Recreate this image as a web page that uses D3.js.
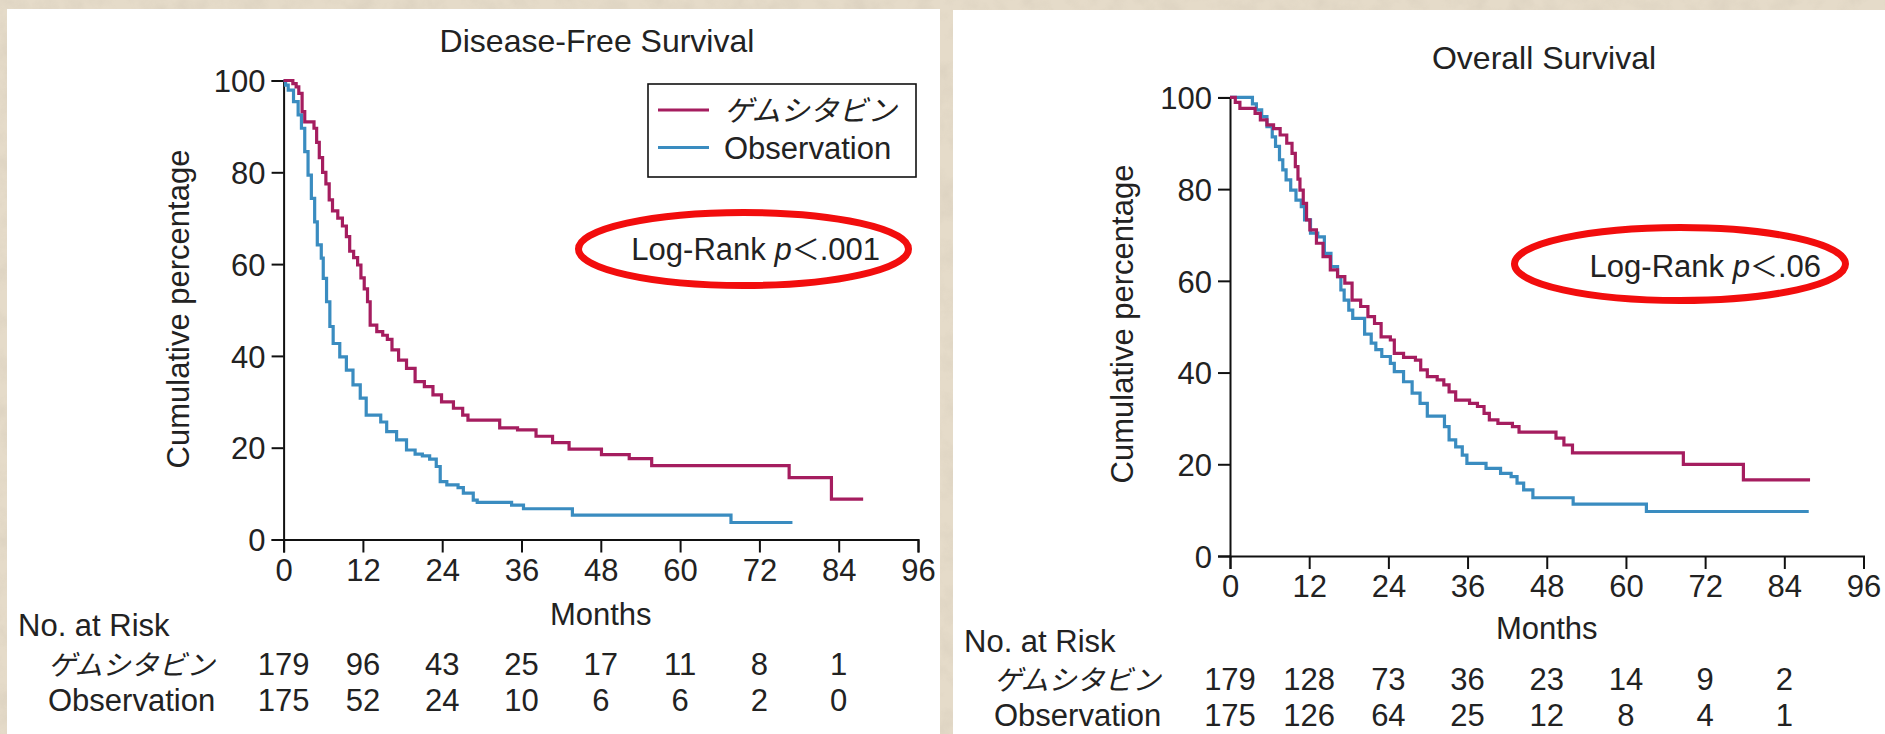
<!DOCTYPE html>
<html>
<head>
<meta charset="utf-8">
<script src="https://cdn.jsdelivr.net/npm/d3@7"></script>
<style>
  html, body { margin: 0; padding: 0; background: #e4dac8; }
  svg { display: block; }
  text { font-family: "Liberation Sans", Arial, sans-serif; fill: #222; }
  .jp { font-family: "Noto Sans CJK JP", sans-serif; font-style: italic; }
</style>
</head>
<body>
<svg id="chart" width="1885" height="734"></svg>
<script>
// Kaplan–Meier curves: [month, cumulative %] — each point is the value after a drop;
// the final point marks the end of follow-up.
const monthTicks = [0, 12, 24, 36, 48, 60, 72, 84, 96];
const percentTicks = [0, 20, 40, 60, 80, 100];
const groupNames = ["ゲムシタビン", "Observation"];

const dfsGemcitabine = [
  [0,100],[1.4,99.3],[1.9,98.6],[2.3,97.2],[2.8,93.2],[3.2,91.0],[4.6,89.6],[5.0,86.5],
  [5.4,83.2],[5.9,80.0],[6.4,77.5],[6.9,74.0],[7.4,71.6],[8.2,70.0],[8.9,68.3],[9.5,66.0],
  [10.0,62.8],[10.6,61.4],[11.2,59.8],[11.7,57.0],[12.2,54.6],[12.7,51.8],[13.1,46.7],
  [14.1,45.3],[15.0,44.5],[15.7,43.6],[16.4,41.3],[17.4,39.1],[18.6,37.3],[19.9,34.4],
  [21.3,33.3],[22.6,31.5],[23.9,30.0],[25.7,28.6],[27.1,27.1],[27.9,26.0],[32.7,24.3],
  [35.4,23.9],[38.2,22.5],[40.7,21.1],[43.2,19.7],[48.1,18.5],[52.3,17.6],[55.7,16.1],
  [76.5,13.5],[82.9,8.8],[87.7,8.8]
];
const dfsObservation = [
  [0,100],[0.3,99.0],[0.7,97.9],[1.5,95.4],[2.2,92.5],[2.7,89.6],[3.2,84.5],[3.7,79.4],
  [4.2,74.3],[4.7,69.2],[5.1,64.2],[5.7,61.3],[6.0,56.9],[6.5,51.8],[7.0,46.4],[7.5,42.7],
  [8.5,39.8],[9.5,36.9],[10.5,33.7],[11.6,30.8],[12.5,27.1],[14.7,25.6],[15.6,23.5],
  [17.1,21.7],[18.6,19.5],[19.9,18.6],[21.0,18.2],[22.1,17.5],[23.1,15.9],[23.7,12.6],
  [24.7,11.9],[26.4,11.3],[27.2,10.1],[28.7,8.6],[29.3,8.1],[34.5,7.5],[36.3,6.7],
  [43.7,5.3],[67.7,3.7],[77.0,3.7]
];
const osGemcitabine = [
  [0,100],[0.8,98.9],[1.5,97.6],[3.8,96.5],[4.6,95.1],[5.6,94.0],[6.6,93.2],[7.6,91.8],
  [8.6,90.0],[9.4,87.8],[9.9,84.9],[10.3,82.2],[10.6,79.8],[11.1,76.9],[11.6,73.3],
  [12.1,71.1],[13.1,68.2],[14.1,65.3],[15.2,62.4],[16.3,60.9],[17.4,59.5],[18.5,55.8],
  [19.8,54.4],[20.9,52.2],[21.9,50.7],[22.9,47.8],[24.3,47.1],[24.9,44.2],[26.3,43.3],
  [28.1,42.7],[28.9,40.6],[29.9,39.1],[31.4,38.4],[32.4,37.3],[33.2,35.8],[34.2,34.0],
  [36.3,33.3],[37.5,32.6],[38.5,31.1],[39.3,29.7],[40.6,28.9],[42.8,28.2],[43.8,27.0],
  [49.4,25.7],[50.6,24.2],[51.9,22.5],[68.7,20.0],[77.8,16.6],[87.9,16.6]
];
const osObservation = [
  [0,100],[3.4,98.6],[4.0,97.3],[4.8,95.8],[5.6,93.6],[6.4,91.4],[6.9,89.3],[7.5,86.4],
  [8.0,84.2],[8.5,82.0],[9.2,79.8],[10.0,77.6],[10.8,76.2],[11.3,73.3],[12.2,70.4],
  [13.3,69.6],[14.3,66.0],[15.3,63.1],[16.3,60.9],[16.8,58.0],[17.3,55.8],[18.0,53.6],
  [18.6,51.8],[20.4,48.4],[21.4,46.4],[22.1,45.0],[23.0,43.5],[24.3,42.0],[24.9,40.2],
  [26.3,38.0],[27.6,35.5],[28.8,33.3],[29.9,30.5],[32.5,28.2],[33.2,25.3],[34.2,23.8],
  [35.2,22.0],[35.9,20.2],[38.8,19.1],[41.0,18.0],[42.6,17.3],[43.5,15.9],[44.5,14.4],
  [45.9,12.7],[52.0,11.3],[63.1,9.7],[87.7,9.7]
];

// Number at risk at each 12-month mark (0–84)
const dfsRiskGemcitabine = [179, 96, 43, 25, 17, 11, 8, 1];
const dfsRiskObservation = [175, 52, 24, 10, 6, 6, 2, 0];
const osRiskGemcitabine = [179, 128, 73, 36, 23, 14, 9, 2];
const osRiskObservation = [175, 126, 64, 25, 12, 8, 4, 1];

const colors = { gem: "#a51d5f", obs: "#3a8cc0" };

const svg = d3.select("#chart");

// textured paper background
const defs = svg.append("defs");
const paper = defs.append("filter").attr("id", "paper")
  .attr("x", 0).attr("y", 0).attr("width", "100%").attr("height", "100%");
paper.append("feTurbulence").attr("type", "fractalNoise")
  .attr("baseFrequency", "0.045").attr("numOctaves", 4).attr("seed", 7);
paper.append("feColorMatrix").attr("type", "matrix")
  .attr("values", "0 0 0 0 0.55  0 0 0 0 0.49  0 0 0 0 0.40  0.9 0 0 0 -0.36");
svg.append("rect").attr("width", 1885).attr("height", 734).attr("fill", "#e5dbc9");
svg.append("rect").attr("width", 1885).attr("height", 734)
  .attr("filter", "url(#paper)").attr("opacity", 0.55);

function drawPanel(cfg) {
  const g = svg.append("g");

  // white card
  g.append("rect")
    .attr("x", cfg.card[0]).attr("y", cfg.card[1])
    .attr("width", cfg.card[2]).attr("height", cfg.card[3])
    .attr("fill", "#ffffff");

  const x = d3.scaleLinear().domain([0, 96]).range([cfg.x0, cfg.x1]);
  const y = d3.scaleLinear().domain([0, 100]).range([cfg.y0, cfg.y1]);

  // axes
  const xAxis = d3.axisBottom(x).tickValues(monthTicks).tickSize(13).tickPadding(6);
  const yAxis = d3.axisLeft(y).tickValues(percentTicks).tickSize(12).tickPadding(6);

  const gx = g.append("g").attr("transform", `translate(0,${cfg.y0})`).call(xAxis);
  const gy = g.append("g").attr("transform", `translate(${cfg.x0},0)`).call(yAxis);
  [gx, gy].forEach(a => {
    a.select(".domain").attr("stroke", "#111").attr("stroke-width", 2);
    a.selectAll(".tick line").attr("stroke", "#111").attr("stroke-width", 2);
    a.selectAll(".tick text")
      .style("font-family", "'Liberation Sans', Arial, sans-serif")
      .style("font-size", "31px").attr("fill", "#222");
  });
  gy.selectAll(".tick text").attr("dy", "0.36em");

  // curves
  const line = d3.line().x(d => x(d[0])).y(d => y(d[1])).curve(d3.curveStepAfter);
  [[cfg.obs, colors.obs], [cfg.gem, colors.gem]].forEach(([data, c]) => {
    g.append("path").datum(data)
      .attr("d", line).attr("fill", "none")
      .attr("stroke", c).attr("stroke-width", 3.2)
      .attr("stroke-linejoin", "miter");
  });

  // title
  g.append("text").attr("x", cfg.titleX).attr("y", cfg.titleY)
    .attr("text-anchor", "middle").style("font-size", "32px").text(cfg.title);

  // y label
  g.append("text")
    .attr("transform", `translate(${cfg.yLabelX},${cfg.yLabelY}) rotate(-90)`)
    .attr("text-anchor", "middle").style("font-size", "31px")
    .text("Cumulative percentage");

  // x label
  g.append("text").attr("x", x(48)).attr("y", cfg.monthsY)
    .attr("text-anchor", "middle").style("font-size", "31px").text("Months");

  // log-rank annotation
  const lr = g.append("text").attr("x", cfg.lrX).attr("y", cfg.lrY)
    .attr("text-anchor", "end").style("font-size", "31px");
  lr.append("tspan").text("Log-Rank ");
  lr.append("tspan").style("font-style", "italic").text("p");
  lr.append("tspan").style("font-family", "'Noto Sans CJK JP', sans-serif")
    .style("font-size", "28px").text("＜");
  lr.append("tspan").text(cfg.pText);

  g.append("ellipse")
    .attr("cx", cfg.ell[0]).attr("cy", cfg.ell[1])
    .attr("rx", cfg.ell[2]).attr("ry", cfg.ell[3])
    .attr("fill", "none").attr("stroke", "#f20d0d").attr("stroke-width", 7);

  // number at risk table
  g.append("text").attr("x", cfg.riskX).attr("y", cfg.riskHeadY)
    .style("font-size", "31px").text("No. at Risk");
  const rows = [
    { name: groupNames[0], vals: cfg.riskGem, y: cfg.riskRowY[0], jp: true },
    { name: groupNames[1], vals: cfg.riskObs, y: cfg.riskRowY[1], jp: false }
  ];
  rows.forEach(r => {
    g.append("text").attr("x", cfg.riskX + 30).attr("y", r.y)
      .attr("class", r.jp ? "jp" : null)
      .style("font-size", r.jp ? "28px" : "31px").text(r.name);
    g.selectAll(null).data(r.vals).enter().append("text")
      .attr("x", (d, i) => x(monthTicks[i]))
      .attr("y", r.y).attr("text-anchor", "middle")
      .style("font-size", "31px").text(d => d);
  });

  return { g, x, y };
}

const left = drawPanel({
  card: [7, 9, 933, 725],
  x0: 283.6, x1: 918, y0: 539.5, y1: 80.5,
  title: "Disease-Free Survival", titleX: 597, titleY: 52,
  yLabelX: 189, yLabelY: 309, monthsY: 625,
  lrX: 880, lrY: 260, pText: ".001", ell: [743.5, 249, 165, 36.5],
  riskX: 18, riskHeadY: 636, riskRowY: [675, 711],
  gem: dfsGemcitabine, obs: dfsObservation,
  riskGem: dfsRiskGemcitabine, riskObs: dfsRiskObservation
});

drawPanel({
  card: [953, 10, 932, 724],
  x0: 1230, x1: 1863.5, y0: 556, y1: 97.4,
  title: "Overall Survival", titleX: 1544, titleY: 69,
  yLabelX: 1133, yLabelY: 324, monthsY: 639,
  lrX: 1821, lrY: 277, pText: ".06", ell: [1680, 264, 165.5, 36.5],
  riskX: 964, riskHeadY: 652, riskRowY: [690, 726],
  gem: osGemcitabine, obs: osObservation,
  riskGem: osRiskGemcitabine, riskObs: osRiskObservation
});

// legend (disease-free panel)
const lg = left.g.append("g");
lg.append("rect").attr("x", 648).attr("y", 84).attr("width", 268).attr("height", 93)
  .attr("fill", "#fff").attr("stroke", "#111").attr("stroke-width", 1.6);
[[groupNames[0], colors.gem, 110, true], [groupNames[1], colors.obs, 147.5, false]].forEach(([name, c, yy, jp]) => {
  lg.append("line").attr("x1", 658).attr("x2", 709).attr("y1", yy).attr("y2", yy)
    .attr("stroke", c).attr("stroke-width", 3.2);
  lg.append("text").attr("x", 724).attr("y", yy + 11)
    .attr("class", jp ? "jp" : null)
    .style("font-size", jp ? "29px" : "31px").text(name);
});
</script>
</body>
</html>
